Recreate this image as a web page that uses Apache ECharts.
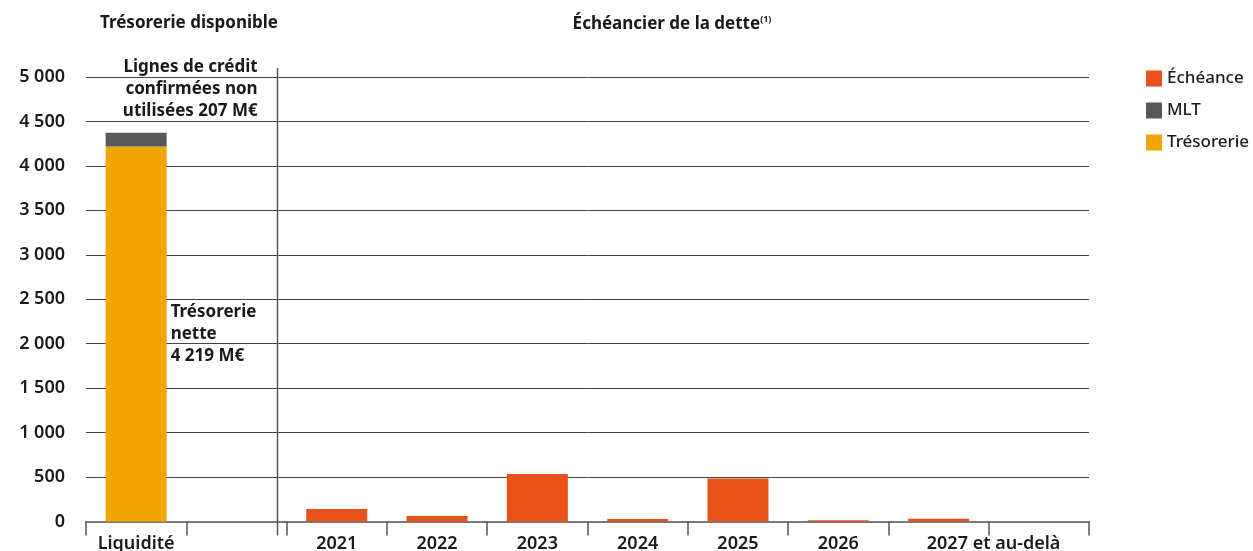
<!DOCTYPE html>
<html>
<head>
<meta charset="utf-8">
<script src="https://cdn.jsdelivr.net/npm/echarts@6/dist/echarts.min.js"></script>
<style>
  html, body { margin: 0; padding: 0; background: #fff; }
  #main { width: 1253px; height: 551px; }
</style>
</head>
<body>
<div id="main"></div>
<script>
const categories = ["Liquidité", "", "2021", "2022", "2023", "2024", "2025", "2026", "2027 et au-delà", ""];
const tresorerie = [4219, "-", "-", "-", "-", "-", "-", "-", "-", "-"];
const mlt = [155, "-", "-", "-", "-", "-", "-", "-", "-", "-"];
const echeance = ["-", "-", 140, 62, 534, 28, 485, 15, 32, "-"];
const yTicks = { min: 0, max: 5000, step: 500 };

const font = "Noto Sans";
const ink = "#1a1a1a";

let chartDom = document.getElementById("main");
let myChart = echarts.init(chartDom);

function fmtNum(v) {
  return String(v).replace(/\B(?=(\d{3})+(?!\d))/g, " ");
}

let option = {
  animation: false,
  textStyle: { fontFamily: font },
  title: [
    {
      text: "Trésorerie disponible",
      left: 184,
      top: 10,
      textAlign: "center",
      textStyle: { fontFamily: font, fontSize: 17, fontWeight: "bold", color: ink },
    },
    {
      text: "Échéancier de la dette{s|(1)}",
      left: 667,
      top: 10,
      textAlign: "center",
      textStyle: {
        fontFamily: font, fontSize: 17, fontWeight: "bold", color: ink,
        rich: {
          s: { fontSize: 9, fontWeight: "bold", verticalAlign: "top", padding: [0, 0, 10, 0], color: ink },
        },
      },
    },
  ],
  legend: {
    orient: "vertical",
    left: 1146,
    top: 70,
    padding: 0,
    itemWidth: 16,
    itemHeight: 16,
    itemGap: 15,
    icon: "rect",
    data: ["Échéance", "MLT", "Trésorerie"],
    textStyle: { fontFamily: font, fontSize: 17, fontWeight: 500, color: ink, padding: [0, 0, 0, 0] },
  },
  grid: { left: 86, right: 164, top: 77, bottom: 29.5, outerBoundsMode: "none" },
  xAxis: {
    type: "category",
    data: categories,
    boundaryGap: true,
    axisLine: { lineStyle: { color: "#7a7a7a", width: 2 } },
    axisTick: { show: true, interval: 0, length: 14, lineStyle: { color: "#555", width: 1.5 } },
    axisLabel: {
      interval: 0,
      margin: 13,
      fontFamily: font,
      fontSize: 18,
      fontWeight: 600,
      color: ink,
      formatter: function (v) {
        return v === "2027 et au-delà" ? "{w|" + v + "}" : v;
      },
      rich: {
        w: { fontFamily: font, fontSize: 18, fontWeight: 600, color: ink, padding: [0, 0, 0, 110] },
      },
    },
  },
  yAxis: {
    type: "value",
    min: yTicks.min,
    max: yTicks.max,
    interval: yTicks.step,
    axisLine: { show: false },
    axisTick: { show: false },
    splitLine: { lineStyle: { color: "#444", width: 1 } },
    axisLabel: {
      margin: 21,
      fontFamily: font,
      fontSize: 18,
      fontWeight: 600,
      color: ink,
      formatter: fmtNum,
    },
  },
  series: [
    {
      name: "Trésorerie",
      type: "bar",
      stack: "a",
      barWidth: 61,
      data: tresorerie,
      itemStyle: { color: "#F0A500" },
      label: {
        show: true,
        position: "right",
        distance: 4,
        align: "left",
        formatter: "Trésorerie\nnette\n4 219 M€",
        fontFamily: font,
        fontSize: 17,
        fontWeight: "bold",
        lineHeight: 22,
        color: ink,
      },
    },
    {
      name: "MLT",
      type: "bar",
      stack: "a",
      barWidth: 61,
      data: mlt,
      itemStyle: { color: "#58585A" },
      label: {
        show: true,
        position: [152, -76],
        align: "right",
        verticalAlign: "top",
        formatter: "Lignes de crédit\nconfirmées non\nutilisées 207 M€",
        fontFamily: font,
        fontSize: 17,
        fontWeight: "bold",
        lineHeight: 22,
        color: ink,
      },
    },
    {
      name: "Échéance",
      type: "bar",
      stack: "a",
      barWidth: 61,
      data: echeance,
      itemStyle: { color: "#E85218" },
    },
  ],
};

myChart.setOption(option);

// divider between the two panels, just left of the 2021 band
let c1 = myChart.convertToPixel({ xAxisIndex: 0 }, 1);
let c2 = myChart.convertToPixel({ xAxisIndex: 0 }, 2);
let band = c2 - c1;
let dx = Math.round(c1 + band * 0.4) + 0.5;
let yTop = myChart.convertToPixel({ yAxisIndex: 0 }, yTicks.max) - 9;
let yBot = myChart.convertToPixel({ yAxisIndex: 0 }, 0) + 14;
myChart.setOption({
  graphic: [
    {
      type: "line",
      shape: { x1: dx, y1: yTop, x2: dx, y2: yBot },
      style: { stroke: "#555", lineWidth: 1.5 },
      z: 10,
    },
  ],
});
</script>
</body>
</html>
